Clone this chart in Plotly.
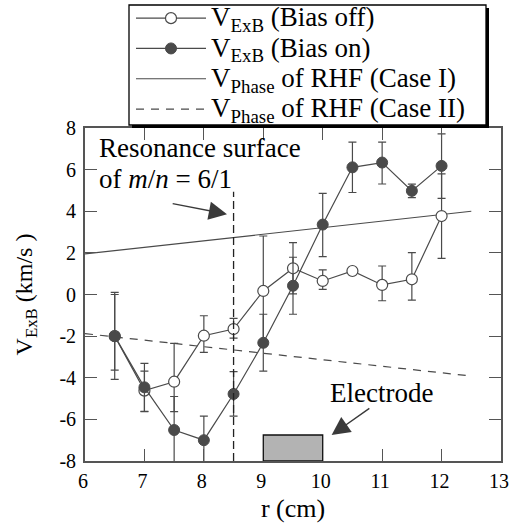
import plotly.graph_objects as go

# ---------------- data ----------------
r_cm = [6.5, 7, 7.5, 8, 8.5, 9, 9.5, 10, 10.5, 11, 11.5, 12]

v_off = [-2.0, -4.62, -4.19, -1.98, -1.66, 0.17, 1.26, 0.65, 1.13, 0.46, 0.73, 3.77]
v_off_err_plus = [2.1, 0.94, 1.84, 0.96, 0.51, 2.64, 1.23, 0.53, 0.0, 0.91, 1.28, 2.03]
v_off_err_minus = [2.08, 1.01, 1.44, 0.8, 0.44, 2.64, 1.23, 0.4, 0.0, 0.76, 1.0, 2.03]

v_on = [-2.0, -4.46, -6.51, -7.0, -4.78, -2.32, 0.42, 3.36, 6.11, 6.34, 4.98, 6.18]
v_on_err_plus = [2.0, 1.15, 1.61, 1.16, 1.07, 1.37, 1.37, 1.5, 1.21, 0.98, 0.32, 1.54]
v_on_err_minus = [1.63, 1.15, 1.61, 1.16, 1.06, 1.36, 1.37, 1.54, 1.21, 1.03, 0.33, 1.56]

phase_r = [6.0, 12.5]
phase_case1 = [1.95, 4.0]
phase_case2 = [-1.88, -3.92]

resonance_r = 8.5
resonance_top = 4.94
electrode_r = [9.0, 10.0]
electrode_height = [-8.0, -6.75]

x_ticks = [6, 7, 8, 9, 10, 11, 12, 13]
x_tick_labels = ["6", "7", "8", "9", "10", "11", "12", "13"]
y_ticks = [-8, -6, -4, -2, 0, 2, 4, 6, 8]
y_tick_labels = ["-8", "-6", "-4", "-2", "0", "2", "4", "6", "8"]

LEG = '<span style="font-size:27px">{}</span>'
names = [
    LEG.format("V<sub>ExB</sub> (Bias off)"),
    LEG.format("V<sub>ExB</sub> (Bias on)"),
    LEG.format("V<sub>Phase</sub> of RHF (Case I)"),
    LEG.format("V<sub>Phase</sub> of RHF (Case II)"),
]

# ---------------- layout geometry ----------------
W, H = 516, 530
ML, MR, MT, MB = 85, 15, 128, 69
PW, PH = W - ML - MR, H - MT - MB


def px_x(px):
    return (px - ML) / PW


def px_y(py):
    return (H - MB - py) / PH


FONT = "Liberation Serif"
INK = "#4a4a4a"

fig = go.Figure()

fig.add_trace(go.Scatter(
    x=phase_r, y=phase_case1, mode="lines", name=names[2], legendrank=3,
    line=dict(color=INK, width=1.2)))
fig.add_trace(go.Scatter(
    x=phase_r, y=phase_case2, mode="lines", name=names[3], legendrank=4,
    line=dict(color=INK, width=1.2, dash="8px,7px")))

fig.add_trace(go.Scatter(
    x=r_cm, y=v_off, mode="lines+markers", name=names[0], legendrank=1,
    line=dict(color=INK, width=1.2),
    marker=dict(symbol="circle", size=11, color="white", line=dict(color=INK, width=1.2)),
    error_y=dict(type="data", symmetric=False, array=v_off_err_plus,
                 arrayminus=v_off_err_minus, color=INK, thickness=1.2, width=4)))
fig.add_trace(go.Scatter(
    x=r_cm, y=v_on, mode="lines+markers", name=names[1], legendrank=2,
    line=dict(color=INK, width=1.2),
    marker=dict(symbol="circle", size=11, color=INK, line=dict(color=INK, width=1)),
    error_y=dict(type="data", symmetric=False, array=v_on_err_plus,
                 arrayminus=v_on_err_minus, color=INK, thickness=1.2, width=4)))

shapes = [
    # resonance surface line
    dict(type="line", xref="x", yref="y", x0=resonance_r, x1=resonance_r,
         y0=y_ticks[0], y1=resonance_top, line=dict(color="#222", width=1.3, dash="8px,4px")),
    # electrode
    dict(type="rect", xref="x", yref="y", x0=electrode_r[0], x1=electrode_r[1],
         y0=electrode_height[0], y1=electrode_height[1],
         fillcolor="#b3b3b3", line=dict(color="#111", width=1.3)),
    # legend shadow + frame
    dict(type="rect", xref="paper", yref="paper", layer="above",
         x0=px_x(132), x1=px_x(489), y0=px_y(128), y1=px_y(8),
         fillcolor="black", line=dict(width=0)),
    dict(type="rect", xref="paper", yref="paper", layer="above",
         x0=px_x(129), x1=px_x(486), y0=px_y(125), y1=px_y(5),
         fillcolor="white", line=dict(color="black", width=1.3)),
]

annotations = [
    dict(x=6.2, y=7.85, xref="x", yref="y", xanchor="left", yanchor="top",
         text='<span style="font-size:27px">Resonance surface<br>of <i>m</i>/<i>n</i> = 6/1</span>',
         align="left", showarrow=False, font=dict(family=FONT, size=24, color="black")),
    dict(x=8.39, y=3.86, ax=7.45, ay=4.38, xref="x", yref="y", axref="x", ayref="y",
         text="", showarrow=True, arrowhead=2, arrowsize=2.6, arrowwidth=1.4,
         arrowcolor="#3a3a3a"),
    dict(x=10.99, y=-4.74, xref="x", yref="y", text="Electrode", showarrow=False,
         font=dict(family=FONT, size=27, color="black")),
    dict(x=10.15, y=-6.75, ax=10.81, ay=-5.42, xref="x", yref="y", axref="x", ayref="y",
         text="", showarrow=True, arrowhead=2, arrowsize=2.6, arrowwidth=1.4,
         arrowcolor="#3a3a3a"),
]

axis_common = dict(
    showline=True, linecolor="#555", linewidth=1.8, mirror="ticks",
    ticks="inside", ticklen=12, tickwidth=1.3, tickcolor="#555",
    showgrid=False, zeroline=False,
    tickfont=dict(family=FONT, size=20, color="black"),
)

fig.update_layout(
    width=W, height=H,
    margin=dict(l=ML, r=MR, t=MT, b=MB, autoexpand=False),
    paper_bgcolor="white", plot_bgcolor="white",
    font=dict(family=FONT, color="black"),
    xaxis=dict(range=[x_ticks[0], x_ticks[-1]], tickvals=x_ticks, ticktext=x_tick_labels,
               title=dict(text="r (cm)", font=dict(family=FONT, size=26), standoff=8),
               ticklabelstandoff=1, ticklabelshift=-2, **axis_common),
    yaxis=dict(range=[y_ticks[0], y_ticks[-1]], tickvals=y_ticks, ticktext=y_tick_labels,
               title=dict(text="V<sub>ExB</sub> (km/s )", font=dict(family=FONT, size=24), standoff=20),
               ticklabelstandoff=3, **axis_common),
    showlegend=True,
    legend=dict(x=px_x(131), y=px_y(-2), xanchor="left", yanchor="top",
                bgcolor="rgba(0,0,0,0)", borderwidth=0, itemwidth=70,
                font=dict(family=FONT, size=21, color="black"),
                tracegroupgap=0),
    shapes=shapes,
    annotations=annotations,
)

# remove the default 8px page margin so the 516x530 figure fills the window exactly
fig.write_html("out.html", config={"displayModeBar": False},
               post_script="document.body.style.margin='0px';")
